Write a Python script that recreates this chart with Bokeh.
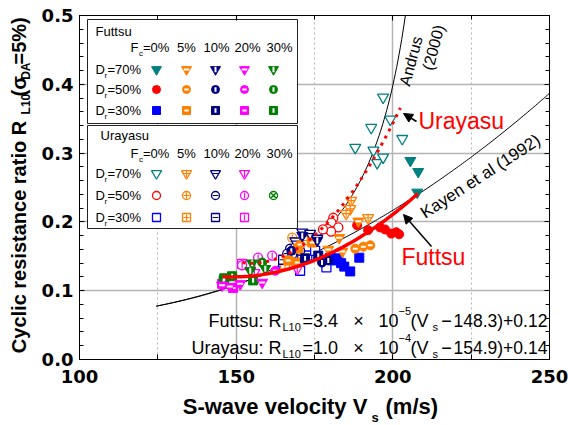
import numpy as np
from bokeh.plotting import figure
from bokeh.layouts import column, row
from bokeh.models import (LinearAxis, SingleIntervalTicker, Label, Arrow, NormalHead,
                          PrintfTickFormatter)
from bokeh.embed import file_html
from bokeh.resources import INLINE

# ---------------- data ----------------
# Futtsu (filled / half-filled symbols)
fut70_0_vs = [205.6, 208.1, 207.8]
fut70_0_r = [0.289, 0.273, 0.243]
fut70_5_vs = [179.4, 182.9, 189.0, 183.9]
fut70_5_r = [0.160, 0.177, 0.201, 0.157]
fut70_10_vs = [171.1, 175.9]
fut70_10_r = [0.180, 0.173]
fut70_20_vs = [145.5, 151.3, 158.3, 148.0]
fut70_20_r = [0.108, 0.110, 0.112, 0.106]
fut70_30_vs = [155.1, 159.3, 154.5]
fut70_30_r = [0.140, 0.132, 0.129]
fut50_0_vs = [188.6, 192.1, 195.9, 197.5, 199.5, 201.1, 202.0]
fut50_0_r = [0.195, 0.188, 0.192, 0.189, 0.183, 0.185, 0.182]
fut50_5_vs = [188.0, 190.6, 192.8, 170.4]
fut50_5_r = [0.161, 0.164, 0.166, 0.167]
fut50_10_vs = [177.4, 179.4, 167.6]
fut50_10_r = [0.141, 0.144, 0.158]
fut50_20_vs = [162.5]
fut50_20_r = [0.129]
fut50_30_vs = [158.3]
fut50_30_r = [0.141]
fut30_0_vs = [180.0, 181.3, 182.6, 183.5, 184.5, 186.4, 189.3]
fut30_0_r = [0.148, 0.144, 0.147, 0.140, 0.135, 0.128, 0.148]
fut30_5_vs = [166.6, 169.5, 169.8, 174.3]
fut30_5_r = [0.144, 0.141, 0.161, 0.170]
fut30_10_vs = [172.0, 176.2]
fut30_10_r = [0.147, 0.151]
fut30_20_vs = [145.5, 149.0]
fut30_20_r = [0.110, 0.104]
fut30_30_vs = [146.0, 146.2, 155.4, 148.7]
fut30_30_r = [0.115, 0.118, 0.115, 0.121]

# Urayasu (open symbols)
ura70_0_vs = [196.9, 199.2, 193.1, 203.0, 188.0, 193.8, 195.0, 196.9]
ura70_0_r = [0.381, 0.349, 0.337, 0.321, 0.308, 0.304, 0.286, 0.294]
ura70_5_vs = [186.7, 186.4, 185.1, 192.1]
ura70_5_r = [0.231, 0.219, 0.212, 0.206]
ura70_10_vs = [171.1, 173.6, 175.9, 168.9]
ura70_10_r = [0.185, 0.183, 0.176, 0.172]
ura70_20_vs = [169.5, 155.8]
ura70_20_r = [0.132, 0.126]
ura50_0_vs = [181.0, 180.4, 179.1, 182.6, 180.3, 177.7]
ura50_0_r = [0.206, 0.199, 0.190, 0.192, 0.186, 0.189]
ura50_5_vs = [167.9, 172.7]
ura50_5_r = [0.177, 0.173]
ura50_10_vs = [167.2, 168.8, 166.3, 170.4, 167.9]
ura50_10_r = [0.161, 0.163, 0.154, 0.158, 0.153]
ura50_20_vs = [157.0, 161.5, 151.9]
ura50_20_r = [0.148, 0.151, 0.137]
ura30_0_vs = [172.0, 174.0, 173.0, 169.5, 172.7, 168.2, 178.8, 175.2, 165.0, 170.4]
ura30_0_r = [0.179, 0.173, 0.164, 0.147, 0.151, 0.154, 0.134, 0.158, 0.141, 0.129]
ura30_5_vs = [165.6]
ura30_5_r = [0.138]
ura30_10_vs = [165.0]
ura30_10_r = [0.145]
ura30_20_vs = [151.9, 154.5]
ura30_20_r = [0.139, 0.137]

# Fitted relations shown on the chart
fut_coef, fut_v0, fut_c = 3.4e-5, 148.3, 0.12
ura_coef, ura_v0, ura_c = 1.0e-4, 154.9, 0.14
fut_range = (145.6, 208.0)
ura_range = (152.0, 202.4)
# reference curves (shapes)
andrus_a, andrus_b, andrus_vc, andrus_range = -0.0075, 8.12, 220.0, (124.5, 204.0)
kayen_c0, kayen_c1, kayen_c2, kayen_range = 0.1559, -0.002171, 1.238e-5, (124.5, 250.0)

# ---------------- colours / fonts ----------------
TEAL, ORANGE, NAVY, MAGENTA, GREEN = "#008080", "#ff8000", "#000080", "#ff00ff", "#008000"
RED, BLUE = "#ff0000", "#0000ff"
FONT = "Liberation Sans"
AXFONT = "DejaVu Sans"

# ---------------- layout geometry (page pixels) ----------------
W, H = 568, 425
LEFT_W = 34          # strip holding the y-axis title
BOT_H = 32           # strip holding the x-axis title
FL, FR, FT, FB = 79, 549, 15, 359   # plot frame on the page
MAIN_W, MAIN_H = W - LEFT_W, H - BOT_H

p = figure(width=MAIN_W, height=MAIN_H, x_range=(100, 250), y_range=(0, 0.5),
           output_backend="svg", toolbar_location=None,
           min_border_left=FL - LEFT_W, min_border_right=W - FR,
           min_border_top=FT, min_border_bottom=MAIN_H - FB)
p.background_fill_color = "white"
p.border_fill_color = "white"
p.outline_line_color = "black"
p.outline_line_width = 1


def X(px):
    return 100 + (px - FL) * 150.0 / (FR - FL)


def Y(py):
    return (FB - py) * 0.5 / (FB - FT)


xt = SingleIntervalTicker(interval=50, num_minor_ticks=2)
yt = SingleIntervalTicker(interval=0.1, num_minor_ticks=5)
p.xaxis.ticker = xt
p.yaxis.ticker = yt
p.xaxis.formatter = PrintfTickFormatter(format="%d")
p.yaxis.formatter = PrintfTickFormatter(format="%.1f")
for ax in (p.xaxis[0], p.yaxis[0]):
    ax.major_tick_in = 5
    ax.major_tick_out = 0
    ax.minor_tick_in = 4
    ax.minor_tick_out = 0
    ax.axis_line_color = "black"
    ax.major_label_text_font = AXFONT
    ax.major_label_text_font_style = "bold"
    ax.major_label_text_font_size = "18px"
    ax.major_label_text_color = "black"
p.xaxis.minor_tick_in = 5
p.xaxis.major_label_standoff = 10
p.yaxis.major_label_standoff = 6

for loc in ("above", "right"):
    tk = SingleIntervalTicker(interval=50, num_minor_ticks=2) if loc == "above" else \
        SingleIntervalTicker(interval=0.1, num_minor_ticks=5)
    ax = LinearAxis(ticker=tk, major_label_text_font_size="1px", major_label_text_color=None,
                    major_tick_in=5, major_tick_out=0, minor_tick_in=4, minor_tick_out=0,
                    axis_line_color="black", major_label_standoff=0)
    p.add_layout(ax, loc)

p.xgrid.ticker = xt
p.ygrid.ticker = yt
p.xgrid.grid_line_color = "#b4b4b4"
p.xgrid.grid_line_width = 1.5
p.ygrid.grid_line_color = "#b4b4b4"
p.ygrid.grid_line_width = 1.5
p.xgrid.minor_grid_line_color = "#b4b4b4"
p.xgrid.minor_grid_line_dash = "2 3"
p.xgrid.minor_grid_line_width = 1

# ---------------- helpers ----------------
MK = {"tri": "inverted_triangle", "cir": "circle", "sq": "square"}
SZ = {"tri": 11, "cir": 9, "sq": 9}


def draw(xs, ys, shape, color, style, size=None):
    if len(xs) == 0:
        return
    m = MK[shape]
    s = size or SZ[shape]
    if style == "solid":
        p.scatter(xs, ys, marker=m, size=s, fill_color=color, line_color=color)
    elif style in ("hbar", "vbar"):
        p.scatter(xs, ys, marker=m, size=s, fill_color=color, line_color=color)
        p.scatter(xs, ys, marker="dash", size=s * 0.55, line_color="white", line_width=2,
                  angle=0 if style == "hbar" else np.pi / 2)
    else:
        mm = "circle_x" if style == "x" else m
        p.scatter(xs, ys, marker=mm, size=s, fill_color="white", line_color=color, line_width=1.3)
        if style == "plus":
            p.scatter(xs, ys, marker="cross", size=s * 0.75, line_color=color, line_width=1.2)
        elif style == "hline":
            p.scatter(xs, ys, marker="dash", size=s * 0.7, line_color=color, line_width=1.2)
        elif style == "vline":
            p.scatter(xs, ys, marker="dash", size=s * 0.7, line_color=color, line_width=1.2,
                      angle=np.pi / 2)


def lab(px, py, text, size, color="black", align="left", baseline="middle", angle=0,
        bold=False, font=FONT, fig=None, conv=True):
    f = fig if fig is not None else p
    x, y = (X(px), Y(py)) if conv else (px, py)
    f.add_layout(Label(x=x, y=y, text=text, text_font=font,
                       text_font_size=f"{size}px", text_color=color, text_align=align,
                       text_baseline=baseline, angle=angle, angle_units="deg",
                       text_font_style="bold" if bold else "normal"))


# ---------------- legend boxes ----------------
p.quad(left=[X(87), X(87)], right=[X(297), X(297)], top=[Y(19), Y(125)],
       bottom=[Y(123), Y(228)], fill_color="white", line_color="#222222", line_width=1)

fc_labels = ["=0%", "5%", "10%", "20%", "30%"]
col_px = [156, 186, 215, 244, 273]
hdr_px = [None, 186, 216, 247, 279]
styles_f = ["solid", "hbar", "vbar", "hbar", "vbar"]
styles_u = ["open", "plus", "hline", "vline", "x"]
first_col = {"tri": TEAL, "cir": RED, "sq": BLUE}
col_colors = [None, ORANGE, NAVY, MAGENTA, GREEN]
rows = [("=70%", "tri"), ("=50%", "cir"), ("=30%", "sq")]
ura_col5 = {"tri": False, "cir": True, "sq": False}

for name, top_py, hdr_py, row_pys, sty in (
        ("Futtsu", 31, 47, [69, 89, 110], styles_f),
        ("Urayasu", 135, 153, [173, 195, 217], styles_u)):
    lab(95 if name == "Futtsu" else 100, top_py, name, 13)
    lab(130, hdr_py, "F", 13)
    lab(138.5, hdr_py + 6, "c", 8)
    lab(142.5, hdr_py, fc_labels[0], 13)
    for j in range(1, 5):
        lab(hdr_px[j], hdr_py, fc_labels[j], 13, align="center")
    for (rtxt, shape), rpy in zip(rows, row_pys):
        lab(95, rpy, "D", 13)
        lab(104, rpy + 6, "r", 8)
        lab(107, rpy, rtxt, 13)
        for j in range(5):
            if name == "Urayasu" and j == 4 and not ura_col5[shape]:
                continue
            c = first_col[shape] if j == 0 else col_colors[j]
            draw([X(col_px[j])], [Y(rpy)], shape, c, sty[j],
                 size={"tri": 10, "cir": 8, "sq": 8}[shape])

# ---------------- reference curves ----------------
va = np.linspace(*andrus_range, 200)
p.line(va, andrus_a + andrus_b / (andrus_vc - va), line_color="black", line_width=1)
vk = np.linspace(*kayen_range, 200)
p.line(vk, kayen_c0 + kayen_c1 * vk + kayen_c2 * vk ** 2, line_color="black", line_width=1)

# ---------------- data points ----------------
draw(ura30_0_vs, ura30_0_r, "sq", BLUE, "open")
draw(ura30_5_vs, ura30_5_r, "sq", ORANGE, "plus")
draw(ura30_10_vs, ura30_10_r, "sq", NAVY, "hline")
draw(ura30_20_vs, ura30_20_r, "sq", MAGENTA, "vline")
draw(ura50_0_vs, ura50_0_r, "cir", RED, "open")
draw(ura50_5_vs, ura50_5_r, "cir", ORANGE, "plus")
draw(ura50_10_vs, ura50_10_r, "cir", NAVY, "hline")
draw(ura50_20_vs, ura50_20_r, "cir", MAGENTA, "vline")
draw(ura70_0_vs, ura70_0_r, "tri", TEAL, "open")
draw(ura70_5_vs, ura70_5_r, "tri", ORANGE, "plus")
draw(ura70_10_vs, ura70_10_r, "tri", NAVY, "hline")
draw(ura70_20_vs, ura70_20_r, "tri", MAGENTA, "vline")

draw(fut30_0_vs, fut30_0_r, "sq", BLUE, "solid")
draw(fut30_5_vs, fut30_5_r, "sq", ORANGE, "hbar")
draw(fut30_10_vs, fut30_10_r, "sq", NAVY, "vbar")
draw(fut30_20_vs, fut30_20_r, "sq", MAGENTA, "hbar")
draw(fut30_30_vs, fut30_30_r, "sq", GREEN, "vbar")
draw(fut50_0_vs, fut50_0_r, "cir", RED, "solid")
draw(fut50_5_vs, fut50_5_r, "cir", ORANGE, "hbar")
draw(fut50_10_vs, fut50_10_r, "cir", NAVY, "vbar")
draw(fut50_20_vs, fut50_20_r, "cir", MAGENTA, "hbar")
draw(fut50_30_vs, fut50_30_r, "cir", GREEN, "vbar")
draw(fut70_0_vs, fut70_0_r, "tri", TEAL, "solid")
draw(fut70_5_vs, fut70_5_r, "tri", ORANGE, "hbar")
draw(fut70_10_vs, fut70_10_r, "tri", NAVY, "vbar")
draw(fut70_20_vs, fut70_20_r, "tri", MAGENTA, "hbar")
draw(fut70_30_vs, fut70_30_r, "tri", GREEN, "vbar")

# ---------------- fitted lines ----------------
vf = np.linspace(*fut_range, 100)
p.line(vf, fut_coef * (vf - fut_v0) ** 2 + fut_c, line_color=RED, line_width=3.5)
vu = np.linspace(*ura_range, 100)
p.line(vu, ura_coef * (vu - ura_v0) ** 2 + ura_c, line_color=RED, line_width=3,
       line_dash="3 5")

# ---------------- annotations ----------------
lab(410.5, 60.5, "Andrus", 16, align="center", angle=75)
lab(433, 47, "(2000)", 16, align="center", angle=75)
lab(480, 176, "Kayen et al (1992)", 17, align="center", angle=33)
lab(418, 120, "Urayasu", 23, color=RED)
lab(401, 256, "Futtsu", 23, color=RED)
p.add_layout(Arrow(end=NormalHead(size=9, fill_color="black", line_color="black"),
                   x_start=X(416), y_start=Y(121), x_end=X(403), y_end=Y(113),
                   line_color="black", line_width=1.5))
p.add_layout(Arrow(end=NormalHead(size=9, fill_color="black", line_color="black"),
                   x_start=X(431), y_start=Y(246), x_end=X(403), y_end=Y(214),
                   line_color="black", line_width=1.5))

# formulas
for name, bl, coef_txt, ex_txt, tail_txt in (
        ("Futtsu: R", 320, "=3.4", "\u22125", "148.3)+0.12"),
        ("Urayasu: R", 347, "=1.0", "\u22124", "154.9)+0.14")):
    lab(281, bl, name, 18, align="right", baseline="alphabetic")
    lab(282, bl + 6, "L10", 11, baseline="alphabetic")
    lab(302, bl, coef_txt, 18, baseline="alphabetic")
    lab(358, bl, "\u00d7", 18, align="center", baseline="alphabetic")
    lab(398, bl, "10", 18, align="right", baseline="alphabetic")
    lab(398, bl - 10, ex_txt, 11, baseline="alphabetic")
    lab(410, bl, "(V", 18, baseline="alphabetic")
    lab(432, bl + 6, "s", 11, baseline="alphabetic")
    lab(446, bl, "\u2212", 18, align="center", baseline="alphabetic")
    lab(453, bl, tail_txt, 17.5, baseline="alphabetic")


# ---------------- side strips for the axis titles ----------------
def strip(w, h, x0, x1, y0, y1):
    f = figure(width=w, height=h, x_range=(x0, x1), y_range=(y1, y0),
               output_backend="svg", toolbar_location=None,
               x_axis_location=None, y_axis_location=None, min_border=0)
    f.grid.visible = False
    f.outline_line_color = None
    f.background_fill_color = "white"
    f.border_fill_color = "white"
    return f


left = strip(LEFT_W, MAIN_H, 0, LEFT_W, 0, MAIN_H)
bottom = strip(W, BOT_H, 0, W, MAIN_H, H)

TFONT = "Liberation Sans"
# y-axis title pieces (page pixels); the first ends where the subscript starts
lab(18, 114, "Cyclic resistance ratio  R", 20, align="right", angle=90, bold=True,
    font=TFONT, fig=left, conv=False)
ytitle_rest = [("L10", 12, 25, 113),
               ("(\u03c3", 20, 18, 92.5),
               ("DA", 12, 25, 73.5),
               ("=5%)", 20, 18, 56)]
for txt, sz, cx, start in ytitle_rest:
    lab(cx, start, txt, sz, align="left", angle=90, bold=True, font=TFONT, fig=left,
        conv=False)

# x-axis title
lab(373, 406, "S-wave velocity  V", 22, align="right", bold=True, font=TFONT, fig=bottom,
    conv=False)
lab(371, 417, "s", 13, bold=True, font=TFONT, fig=bottom, conv=False)
lab(385, 406, "(m/s)", 22, bold=True, font=TFONT, fig=bottom, conv=False)

layout = column(row(left, p, spacing=0), bottom, spacing=0)
open("out.html", "w").write(file_html(layout, INLINE))
